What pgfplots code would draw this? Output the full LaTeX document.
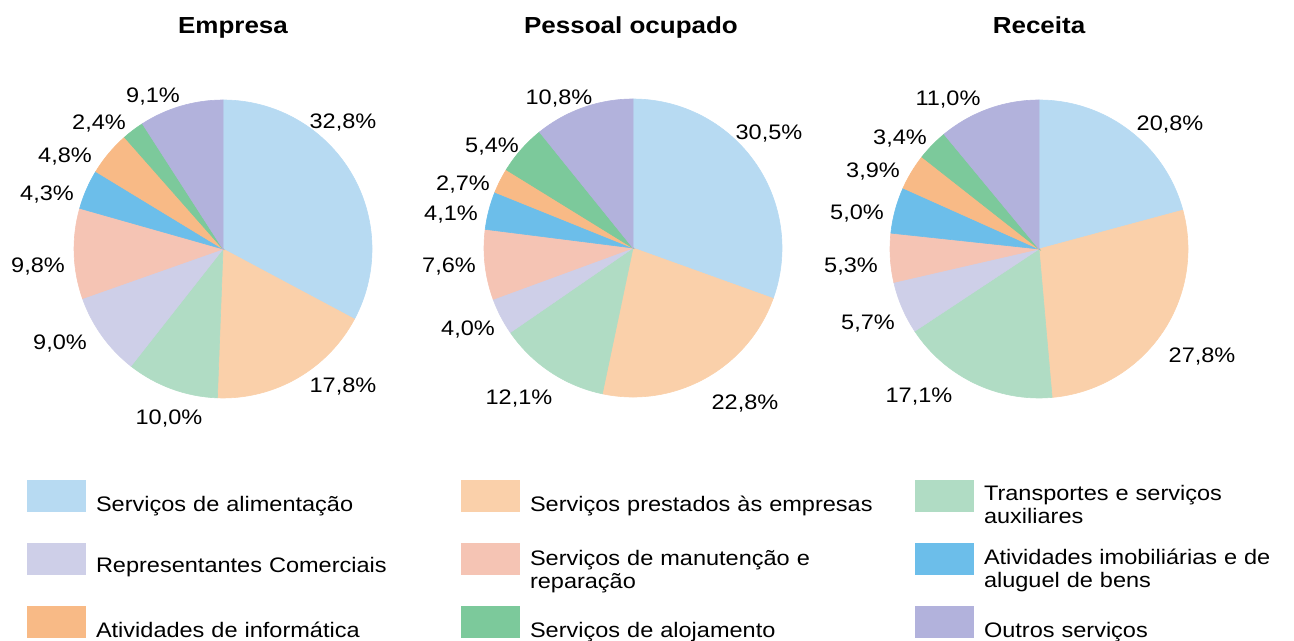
\documentclass[border=0pt]{standalone}
\usepackage{pgfplots}
\pgfplotsset{compat=1.18}
\usepackage{pgfplotstable}
\usepackage{fontspec}
\setmainfont{Liberation Sans}[FakeStretch=1.12]

\definecolor{c0}{RGB}{183,218,242}
\definecolor{c1}{RGB}{250,208,170}
\definecolor{c2}{RGB}{176,220,196}
\definecolor{c3}{RGB}{206,207,232}
\definecolor{c4}{RGB}{245,196,180}
\definecolor{c5}{RGB}{108,190,234}
\definecolor{c6}{RGB}{248,186,134}
\definecolor{c7}{RGB}{124,201,155}
\definecolor{c8}{RGB}{178,178,220}

% v = share (%), lx/ly = label position (px)
\pgfplotstableread{
v lx ly
32.8 343 121
17.8 343 385
10.0 169 417
9.0 60 342
9.8 38 265
4.3 47 193
4.8 65 155
2.4 99 122
9.1 153 95
}\empresa

\pgfplotstableread{
v lx ly
30.5 769 132
22.8 745 402
12.1 519 397
4.0 468 328
7.6 449 265
4.1 451 213
2.7 463 183
5.4 492 145
10.8 559 97
}\pessoal

\pgfplotstableread{
v lx ly
20.8 1170 123
27.8 1202 355
17.1 919 395
5.7 868 322
5.3 851 265
5.0 857 212
3.9 873 170
3.4 900 137
11.0 948 98
}\receita

\newcommand\drawpie[3]{%
  \def\cum{0}%
  \pgfplotsforeachungrouped \i in {0,...,8}{%
    \pgfplotstablegetelem{\i}{v}\of{#1}%
    \let\val\pgfplotsretval
    \pgfmathsetmacro\a{90-3.6*\cum}%
    \pgfmathsetmacro\b{90-3.6*(\cum+\val)}%
    \pgfmathsetmacro\px{#2+149*cos(\a)}%
    \pgfmathsetmacro\py{#3+149*sin(\a)}%
    \edef\tmp{\noexpand\fill[c\i, draw=c\i, line width=0.3pt] (axis cs:#2,#3) -- (axis cs:\px,\py) arc[start angle=\a, end angle=\b, radius=74.5pt] -- cycle;}%
    \tmp
    \pgfmathsetmacro\cum{\cum+\val}%
  }%
}

\pgfplotsset{sq legend/.style={legend image code/.code={\fill[##1, draw=none] (0pt,-8pt) rectangle (29.5pt,8pt);}}}

\begin{document}
\begin{tikzpicture}
\begin{axis}[
  at={(0,0)}, anchor=origin,
  hide axis, clip=false,
  x=0.5pt, y=0.5pt,
  xmin=0, xmax=1294, ymin=-641, ymax=0,
  nodes near coords={\pgfmathprintnumber[fixed,fixed zerofill,precision=1,use comma,assume math mode=true]{\pgfplotspointmeta}\%},
  nodes near coords align={center},
  every node near coord/.append style={anchor=center, inner sep=0pt, text depth=0pt, font=\fontsize{10.5}{12}\selectfont, text=black},
  legend columns=3,
  legend cell align=left,
  legend style={draw=none, fill=none, inner sep=0pt, outer sep=0pt,
    at={(0.02087,0.2512)}, anchor=north west,
    column sep=5pt, row sep={31.5pt,between origins},
    font=\fontsize{10.5}{11.5}\selectfont,
    nodes={inner sep=0pt, align=left}},
]
\drawpie{\empresa}{223}{-249}
\drawpie{\pessoal}{633}{-248}
\drawpie{\receita}{1039}{-249}

\addplot[draw=none, mark=none, forget plot, point meta=explicit] table[x=lx, y expr=-\thisrow{ly}, meta=v]{\empresa};
\addplot[draw=none, mark=none, forget plot, point meta=explicit] table[x=lx, y expr=-\thisrow{ly}, meta=v]{\pessoal};
\addplot[draw=none, mark=none, forget plot, point meta=explicit] table[x=lx, y expr=-\thisrow{ly}, meta=v]{\receita};

\node[font=\fontsize{11.6}{14}\selectfont\bfseries, anchor=base] at (axis cs:233,-34) {Empresa};
\node[font=\fontsize{11.6}{14}\selectfont\bfseries, anchor=base] at (axis cs:631,-34) {Pessoal ocupado};
\node[font=\fontsize{11.6}{14}\selectfont\bfseries, anchor=base] at (axis cs:1039,-34) {Receita};

\addlegendimage{sq legend, fill=c0}
\addlegendentry[text width=177.5pt, yshift=-4.5pt]{Serviços de alimentação}
\addlegendimage{sq legend, fill=c1}
\addlegendentry[text width=187.5pt, yshift=-4.5pt]{Serviços prestados às empresas}
\addlegendimage{sq legend, fill=c2}
\addlegendentry[text width=150pt, yshift=1pt]{Transportes e serviços\\auxiliares}
\addlegendimage{sq legend, fill=c3}
\addlegendentry[text width=177.5pt, yshift=-3.5pt]{Representantes Comerciais}
\addlegendimage{sq legend, fill=c4}
\addlegendentry[text width=187.5pt, yshift=0pt]{Serviços de manutenção e\\reparação}
\addlegendimage{sq legend, fill=c5}
\addlegendentry[text width=150pt, yshift=0.5pt]{Atividades imobiliárias e de\\aluguel de bens}
\addlegendimage{sq legend, fill=c6}
\addlegendentry[text width=177.5pt, yshift=-4.5pt]{Atividades de informática}
\addlegendimage{sq legend, fill=c7}
\addlegendentry[text width=187.5pt, yshift=-4.5pt]{Serviços de alojamento}
\addlegendimage{sq legend, fill=c8}
\addlegendentry[text width=150pt, yshift=-4.5pt]{Outros serviços}

\coordinate (TL) at (axis cs:0,0);
\coordinate (BR) at (axis cs:1294,-641);
\end{axis}
\pgfresetboundingbox
\path[use as bounding box] (TL) rectangle (BR);
\end{tikzpicture}
\end{document}
